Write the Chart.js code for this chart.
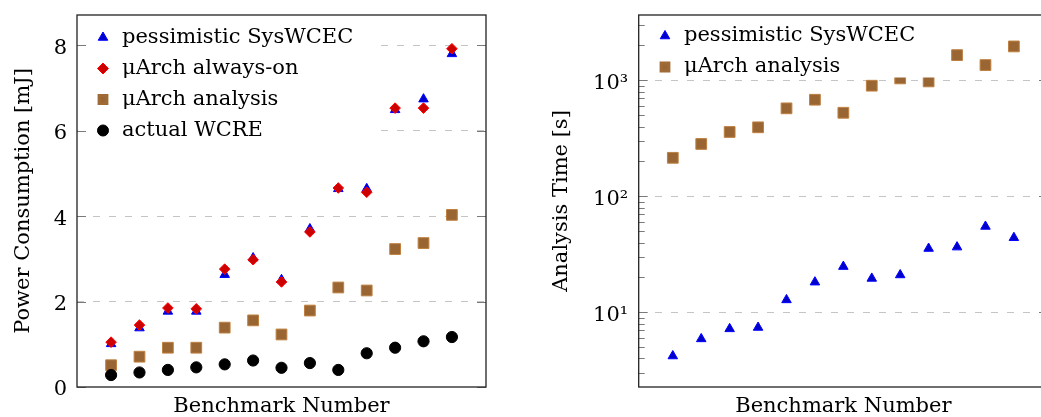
<!DOCTYPE html>
<html>
<head>
<meta charset="utf-8">
<script src="https://cdn.jsdelivr.net/npm/chart.js@4.4.0/dist/chart.umd.min.js"></script>
<style>
  html, body { margin: 0; padding: 0; background: #fff; overflow: hidden; width: 1041px; height: 417px; }
  .panel { position: absolute; top: 0; height: 417px; }
  #energyPanel { left: 0; width: 520px; }
  #timePanel { left: 530px; width: 530px; }
</style>
</head>
<body>
<div class="panel" id="energyPanel"><canvas id="energyChart" width="520" height="417"></canvas></div>
<div class="panel" id="timePanel"><canvas id="timeChart" width="530" height="417"></canvas></div>
<script>
// ── Data ────────────────────────────────────────────────────────────────────
const benchmarks = [1, 2, 3, 4, 5, 6, 7, 8, 9, 10, 11, 12, 13];

// left panel: power consumption [mJ]
const energySysWcec  = [1.01, 1.38, 1.77, 1.77, 2.63, 3.02, 2.51, 3.70, 4.64, 4.64, 6.49, 6.74, 7.80];
const energyAlwaysOn = [1.05, 1.45, 1.85, 1.83, 2.76, 2.98, 2.46, 3.63, 4.66, 4.56, 6.53, 6.53, 7.92];
const energyAnalysis = [0.51, 0.71, 0.92, 0.92, 1.39, 1.56, 1.23, 1.79, 2.33, 2.26, 3.23, 3.37, 4.03];
const energyWcre     = [0.28, 0.34, 0.40, 0.46, 0.53, 0.62, 0.45, 0.56, 0.40, 0.79, 0.92, 1.07, 1.17];

// right panel: analysis time [s]
const timeSysWcec  = [4.2, 5.9, 7.2, 7.4, 12.8, 18.2, 24.8, 19.6, 21.0, 35.5, 36.5, 55.0, 44.0];
const timeAnalysis = [215, 283, 359, 394, 574, 681, 526, 900, 1040, 980, 1652, 1356, 1963];

const energyTicks = [0, 2, 4, 6, 8];
const timeTicks   = [10, 100, 1000];
const timeTickLabels = ['10¹', '10²', '10³'];

// ── Styles ──────────────────────────────────────────────────────────────────
const FONT = "'DejaVu Serif', serif";
const GRID = '#c4c4c4';
const MARKS = {
  sys:      { pointStyle: 'triangle', radius: 5.5, backgroundColor: '#0000cc', borderColor: '#0000ff' },
  alwaysOn: { pointStyle: 'rectRot',  radius: 5.3, backgroundColor: '#cc0000', borderColor: '#ff0000' },
  analysis: { pointStyle: 'rect',     radius: 7.6, backgroundColor: '#996633', borderColor: '#bf8040' },
  wcre:     { pointStyle: 'circle',   radius: 5.6, backgroundColor: '#000000', borderColor: '#000000' },
};

Chart.defaults.font.family = FONT;
Chart.defaults.font.size = 21;
Chart.defaults.color = '#000';

const xy = vals => benchmarks.map((b, i) => ({ x: b, y: vals[i] }));

function series(label, vals, mark, order) {
  return {
    label,
    data: xy(vals),
    order,
    pointStyle: mark.pointStyle,
    pointRadius: mark.radius,
    pointHoverRadius: mark.radius,
    backgroundColor: mark.backgroundColor,
    borderColor: mark.borderColor,
    borderWidth: 1,
  };
}

// ── Plugin: white legend backing, box frame, inward tick marks ──────────────
const paperFrame = {
  id: 'paperFrame',
  afterLayout(chart, args, opts) {
    const lg = chart.legend, a = chart.chartArea;
    if (!lg) return;
    lg.left = a.left + opts.shiftX;
    lg.top = a.top + opts.shiftY;
    lg.right = a.right;
    lg.bottom = a.bottom;
    lg.width = lg.right - lg.left;
    lg.height = lg.bottom - lg.top;
  },
  afterDatasetsDraw(chart, args, opts) {
    const { ctx, chartArea: a } = chart;
    const lg = chart.legend;
    const n = lg.legendItems.length;
    const widest = Math.max(...lg.legendHitBoxes.map(h => h.width));
    ctx.save();
    ctx.fillStyle = '#fff';
    ctx.fillRect(a.left + 1, a.top + 1, lg.left + 10 + widest + 22 - a.left - 1, lg.top + n * 31 - a.top - 1);
    ctx.restore();
    lg.draw();

    const ys = chart.scales.y;
    ctx.save();
    ctx.strokeStyle = '#7a7a7a';
    ctx.lineWidth = 1;
    const mark = (v, len) => {
      const py = Math.round(ys.getPixelForValue(v)) + 0.5;
      ctx.beginPath();
      ctx.moveTo(a.left, py); ctx.lineTo(a.left + len, py);
      ctx.moveTo(a.right, py); ctx.lineTo(a.right - len, py);
      ctx.stroke();
    };
    ys.ticks.forEach(t => mark(t.value, 9));
    if (opts.minor) {
      const lo = Math.floor(Math.log10(ys.min)), hi = Math.ceil(Math.log10(ys.max));
      for (let e = lo; e <= hi; e++) {
        for (let k = 2; k <= 9; k++) {
          const v = k * Math.pow(10, e);
          if (v > ys.min && v < ys.max) mark(v, 6);
        }
      }
    }
    ctx.strokeStyle = '#222';
    ctx.lineWidth = 1.3;
    ctx.strokeRect(a.left, a.top, a.right - a.left, a.bottom - a.top);
    ctx.restore();
  },
};

function legendOpts() {
  return {
    position: 'chartArea',
    align: 'start',
    labels: {
      usePointStyle: true,
      boxWidth: 17,
      boxHeight: 7.8,
      padding: 10,
      color: '#000',
      font: { family: FONT, size: 21 },
      // squares read a little larger in the legend of the original
      generateLabels: chart => Chart.defaults.plugins.legend.labels.generateLabels(chart)
        .map(it => it.pointStyle === 'rect' ? { ...it, lineWidth: 3, strokeStyle: '#a06a36' } : it),
      sort: (a, b) => a.datasetIndex - b.datasetIndex,
    },
  };
}

function xScale() {
  return {
    type: 'linear',
    min: -0.2,
    max: 14.2,
    ticks: { display: false },
    grid: { display: false },
    border: { display: false },
    title: { display: true, text: 'Benchmark Number', color: '#000',
             font: { family: FONT, size: 21, lineHeight: 1 }, padding: 0 },
    afterFit: s => { s.height = 30; s.paddingLeft = 0; s.paddingRight = 0; },
  };
}

function fitY(width) {
  return s => { s.width = width; s.paddingTop = 0; s.paddingBottom = 0; };
}

// ── Left: power consumption ─────────────────────────────────────────────────
new Chart(document.getElementById('energyChart'), {
  type: 'scatter',
  data: {
    datasets: [
      series('pessimistic SysWCEC', energySysWcec, MARKS.sys, 4),
      series('\u03bcArch always-on', energyAlwaysOn, MARKS.alwaysOn, 3),
      series('\u03bcArch analysis', energyAnalysis, MARKS.analysis, 2),
      series('actual WCRE', energyWcre, MARKS.wcre, 1),
    ],
  },
  options: {
    responsive: false,
    animation: false,
    events: [],
    layout: { padding: { top: 15, right: 34, bottom: 0, left: 0 } },
    plugins: {
      legend: legendOpts(),
      tooltip: { enabled: false },
      paperFrame: { shiftX: 7.5, shiftY: 2, minor: false },
    },
    scales: {
      x: xScale(),
      y: {
        type: 'linear',
        min: 0,
        max: 8.71,
        afterBuildTicks: s => { s.ticks = energyTicks.map(v => ({ value: v })); },
        ticks: { padding: 10, labelOffset: 3, color: '#000', font: { size: 21 } },
        grid: { drawTicks: false, color: c => (c.tick && c.tick.value === 0 ? 'rgba(0,0,0,0)' : GRID) },
        border: { display: false, dash: [7, 9] },
        title: { display: true, text: 'Power Consumption [mJ]', color: '#000',
                 font: { family: FONT, size: 21, lineHeight: 1 }, padding: { top: 13.5, bottom: 0 } },
        afterFit: fitY(77),
      },
    },
  },
  plugins: [paperFrame],
});

// ── Right: analysis time (log) ──────────────────────────────────────────────
new Chart(document.getElementById('timeChart'), {
  type: 'scatter',
  data: {
    datasets: [
      series('pessimistic SysWCEC', timeSysWcec, MARKS.sys, 2),
      series('\u03bcArch analysis', timeAnalysis, MARKS.analysis, 1),
    ],
  },
  options: {
    responsive: false,
    animation: false,
    events: [],
    layout: { padding: { top: 15, right: 12, bottom: 0, left: 0 } },
    plugins: {
      legend: legendOpts(),
      tooltip: { enabled: false },
      paperFrame: { shiftX: 7.8, shiftY: 0.5, minor: true },
    },
    scales: {
      x: xScale(),
      y: {
        type: 'logarithmic',
        min: 2.27,
        max: 3664,
        afterBuildTicks: s => { s.ticks = timeTicks.map(v => ({ value: v })); },
        ticks: {
          padding: 10.5, labelOffset: 3, color: '#000', font: { size: 21 },
          callback: v => timeTickLabels[timeTicks.indexOf(v)] || '',
        },
        grid: { drawTicks: false, color: GRID },
        border: { display: false, dash: [7, 9] },
        title: { display: true, text: 'Analysis Time [s]', color: '#000',
                 font: { family: FONT, size: 21, lineHeight: 1 }, padding: { top: 21.5, bottom: 0 } },
        afterFit: fitY(108.7),
      },
    },
  },
  plugins: [paperFrame],
});
</script>
</body>
</html>
